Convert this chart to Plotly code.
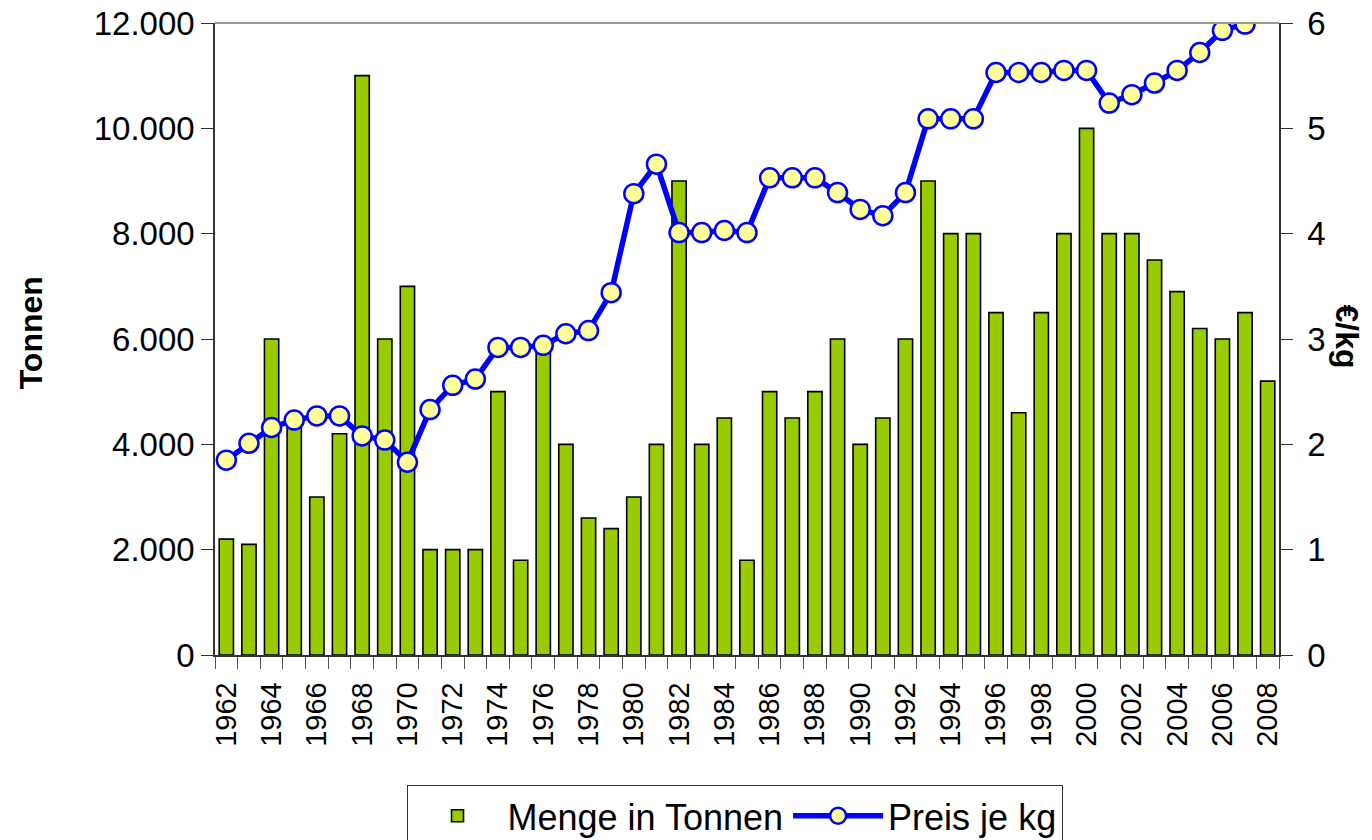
import plotly.graph_objects as go

years = list(range(1962, 2009))
menge = [2200, 2100, 6000, 4400, 3000, 4200, 11000, 6000, 7000, 2000,
         2000, 2000, 5000, 1800, 5800, 4000, 2600, 2400, 3000, 4000,
         9000, 4000, 4500, 1800, 5000, 4500, 5000, 6000, 4000, 4500,
         6000, 9000, 8000, 8000, 6500, 4600, 6500, 8000, 10000, 8000,
         8000, 7500, 6900, 6200, 6000, 6500, 5200]
preis = [1.85, 2.01, 2.16, 2.23, 2.27, 2.27, 2.08, 2.04, 1.83, 2.33,
         2.56, 2.62, 2.92, 2.92, 2.94, 3.05, 3.08, 3.44, 4.38, 4.66,
         4.01, 4.01, 4.03, 4.01, 4.53, 4.53, 4.53, 4.39, 4.23, 4.17,
         4.39, 5.09, 5.09, 5.09, 5.53, 5.53, 5.53, 5.55, 5.55, 5.24,
         5.32, 5.43, 5.55, 5.72, 5.93, 5.99, 6.12]
label_years = list(range(1962, 2009, 2))
boundaries = [y - 0.5 for y in range(1962, 2010)]
left_ticks = [0, 2000, 4000, 6000, 8000, 10000, 12000]
right_ticks = [0, 1, 2, 3, 4, 5, 6]

FONT = "Liberation Sans, Arial, sans-serif"

fig = go.Figure()
fig.add_trace(go.Bar(
    x=years, y=menge, name="Menge in Tonnen", width=0.63,
    marker=dict(color="#99CC00", line=dict(color="#000000", width=1.6)),
))
fig.add_trace(go.Scatter(
    x=years, y=preis, name="Preis je kg", yaxis="y2", mode="lines+markers",
    line=dict(color="#0000FF", width=5.5),
    marker=dict(symbol="circle", size=19, color="#FFFF99",
                line=dict(color="#0000FF", width=2.5)),
))

fig.update_layout(
    width=1372, height=840,
    margin=dict(l=215, r=93, t=22.5, b=185, autoexpand=False),
    plot_bgcolor="white", paper_bgcolor="white",
    separators=",.",
    font=dict(family=FONT, size=30, color="black"),
    showlegend=True,
    legend=dict(orientation="h", x=0.18, xanchor="left", y=-0.2055, yanchor="top",
                bordercolor="#333333", borderwidth=1, font=dict(size=36),
                itemwidth=90, tracegroupgap=0),
    xaxis=dict(range=[1961.5, 2008.5], tickmode="array", tickvals=label_years,
               ticktext=[str(y) for y in label_years], tickangle=-90,
               tickfont=dict(size=29),
               ticks="outside", ticklen=14, tickcolor="rgba(0,0,0,0)",
               showline=True, linecolor="#333333", linewidth=1.5,
               showgrid=False, zeroline=False, automargin=False,
               minor=dict(tickmode="array", tickvals=boundaries, ticks="outside",
                          ticklen=12, tickcolor="#555555", tickwidth=1.2, showgrid=False)),
    yaxis=dict(range=[0, 12000], tickvals=left_ticks, tickformat=",d",
               tickfont=dict(size=33), ticklabeloverflow="allow",
               ticks="outside", ticklen=12, tickcolor="#333333",
               showline=True, linecolor="#333333", linewidth=1.5,
               showgrid=False, zeroline=False, automargin=False),
    yaxis2=dict(range=[0, 6], tickvals=right_ticks, overlaying="y", side="right",
                tickfont=dict(size=33), ticklabeloverflow="allow",
                ticks="outside", ticklen=12, tickcolor="#333333", ticklabelstandoff=8,
                showline=True, linecolor="#333333", linewidth=1.5,
                showgrid=False, zeroline=False, automargin=False),
)

# grey top border of the plot area
fig.add_shape(type="line", xref="paper", yref="paper", x0=0, x1=1, y0=1, y1=1,
              line=dict(color="#999999", width=2))
# axis titles
fig.add_annotation(text="<b>Tonnen</b>", xref="paper", yref="paper",
                   x=0, xshift=-184, xanchor="center", y=0.509, yanchor="middle",
                   textangle=-90, showarrow=False, font=dict(size=32))
fig.add_annotation(text="<b>€/kg</b>", xref="paper", yref="paper",
                   x=1.0, xshift=68, xanchor="center", y=0.504, yanchor="middle",
                   textangle=90, showarrow=False, font=dict(size=32))

# remove the default 8px page margin so the figure fills the window exactly
fig.write_html("out.html",
               config={"displayModeBar": False},
               post_script="document.body.style.margin='0';document.body.style.overflow='hidden';")
